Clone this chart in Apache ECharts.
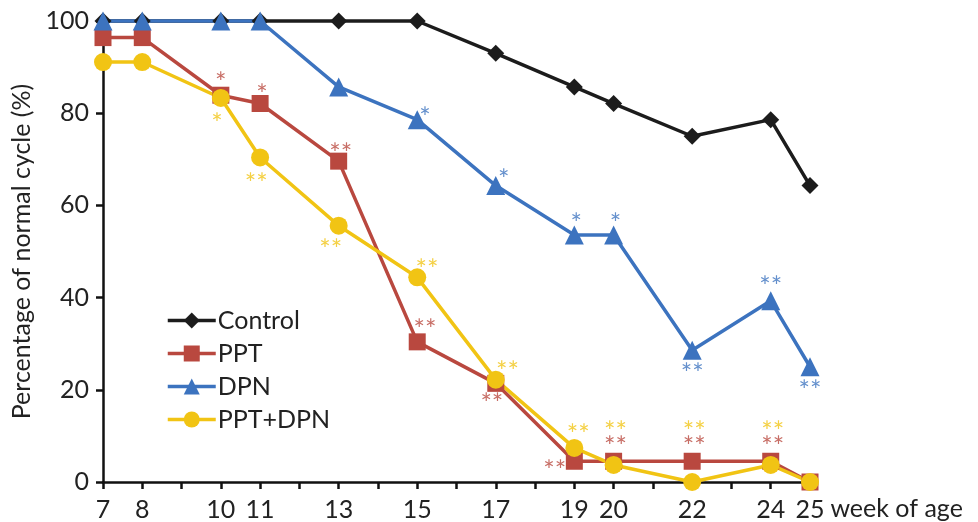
<!DOCTYPE html>
<html>
<head>
<meta charset="utf-8">
<script src="https://cdn.jsdelivr.net/npm/echarts@6/dist/echarts.min.js"></script>
<style>
  html, body { margin: 0; padding: 0; background: #fff; }
  #chart { width: 978px; height: 522px; }
</style>
</head>
<body>
<div id="chart"></div>
<script>
const weeks = [7, 8, 10, 11, 13, 15, 17, 19, 20, 22, 24, 25];
const labelWeeks = [7, 8, 10, 11, 13, 15, 17, 19, 20, 22, 24, 25];

const control = [100, 100, 100, 100, 100, 100, 93, 85.7, 82.1, 75, 78.6, 64.3];
const ppt = [96.4, 96.4, 83.9, 82.1, 69.6, 30.4, 21.4, 4.5, 4.5, 4.5, 4.5, 0];
const dpn = [100, 100, 100, 100, 85.7, 78.6, 64.3, 53.6, 53.6, 28.6, 39.3, 25];
const combo = [91.1, 91.1, 83.3, 70.4, 55.6, 44.4, 22.2, 7.4, 3.7, 0, 3.7, 0];

// significance marks: [week, percent, text]
const pptStars = [
  [10, 88, "*"], [11.05, 85.5, "*"], [13.05, 72.5, "**"], [15.2, 34.5, "**"],
  [16.9, 18.3, "**"], [18.5, 3.8, "**"], [20.05, 9, "**"], [22.05, 9, "**"],
  [24.05, 9, "**"], [25.2, 3.8, "**"]
];
const dpnStars = [
  [15.2, 80.5, "*"], [17.2, 67, "*"], [19.05, 57.5, "*"], [20.05, 57.5, "*"],
  [22, 24.8, "**"], [24, 43.8, "**"], [25, 21.2, "**"]
];
const comboStars = [
  [9.9, 79.2, "*"], [10.9, 66, "**"], [12.8, 51.8, "**"], [15.25, 47.5, "**"],
  [17.3, 25.3, "**"], [19.1, 11.6, "**"], [20.05, 12.2, "**"], [22.05, 12.2, "**"],
  [24.05, 12.2, "**"], [25.2, 7, "**"]
];

const FONT = "Lato";
const cBlack = "#1c1c1c";
const cRed = "#b9483f";
const cBlue = "#3c73bf";
const cYellow = "#f1c414";

const chart = echarts.init(document.getElementById("chart"));

function line(name, values, color, symbol, size) {
  return {
    name: name,
    type: "line",
    data: weeks.map((w, i) => [w, values[i]]),
    symbol: symbol,
    symbolSize: size,
    clip: false,
    lineStyle: { color: color, width: 3.5 },
    itemStyle: { color: color },
  };
}

function stars(list, color) {
  return {
    type: "scatter",
    data: list,
    symbolSize: 1,
    itemStyle: { color: "transparent" },
    silent: true,
    z: 5,
    label: {
      show: true,
      position: "inside",
      formatter: (p) => p.data[2],
      color: color,
      fontFamily: FONT,
      fontSize: 27,
      offset: [0, 7],
    },
  };
}

const options = {
  animation: false,
  textStyle: { fontFamily: FONT },
  grid: { left: 103, right: 168, top: 21, bottom: 39 },
  legend: {
    orient: "vertical",
    left: 161,
    top: 303,
    itemWidth: 48,
    itemHeight: 20,
    itemGap: 8,
    data: ["Control", "PPT", "DPN", "PPT+DPN"],
    lineStyle: { width: 3.5 },
    textStyle: { color: "#222", fontSize: 25, fontFamily: FONT, padding: [0, 0, 0, -3] },
  },
  xAxis: {
    type: "value",
    min: 7,
    max: 25,
    interval: 1,
    name: "week of age",
    nameLocation: "end",
    nameGap: 10,
    nameTextStyle: { color: "#222", fontSize: 25, fontFamily: FONT, align: "left", verticalAlign: "top", padding: [14, 0, 0, 0] },
    splitLine: { show: false },
    axisLine: { lineStyle: { color: "#111", width: 2.5 } },
    axisTick: { length: 7, lineStyle: { color: "#111", width: 2.5 } },
    axisLabel: {
      color: "#222",
      fontSize: 25,
      margin: 15,
      formatter: (v) => (labelWeeks.includes(v) ? String(v) : ""),
    },
  },
  yAxis: {
    type: "value",
    min: 0,
    max: 100,
    interval: 20,
    name: "Percentage of normal cycle (%)",
    nameLocation: "middle",
    nameGap: 68,
    nameTextStyle: { color: "#222", fontSize: 25, fontFamily: FONT, padding: [0, 0, 0, 0] },
    splitLine: { show: false },
    axisLine: { show: true, lineStyle: { color: "#111", width: 2.5 } },
    axisTick: { show: true, length: 7, lineStyle: { color: "#111", width: 2.5 } },
    axisLabel: { color: "#222", fontSize: 25, margin: 14 },
  },
  series: [
    line("Control", control, cBlack, "diamond", 17),
    line("PPT", ppt, cRed, "rect", 17),
    line("DPN", dpn, cBlue, "triangle", 19),
    line("PPT+DPN", combo, cYellow, "circle", 18),
    stars(pptStars, cRed),
    stars(dpnStars, cBlue),
    stars(comboStars, cYellow),
  ],
};

chart.setOption(options);
</script>
</body>
</html>
